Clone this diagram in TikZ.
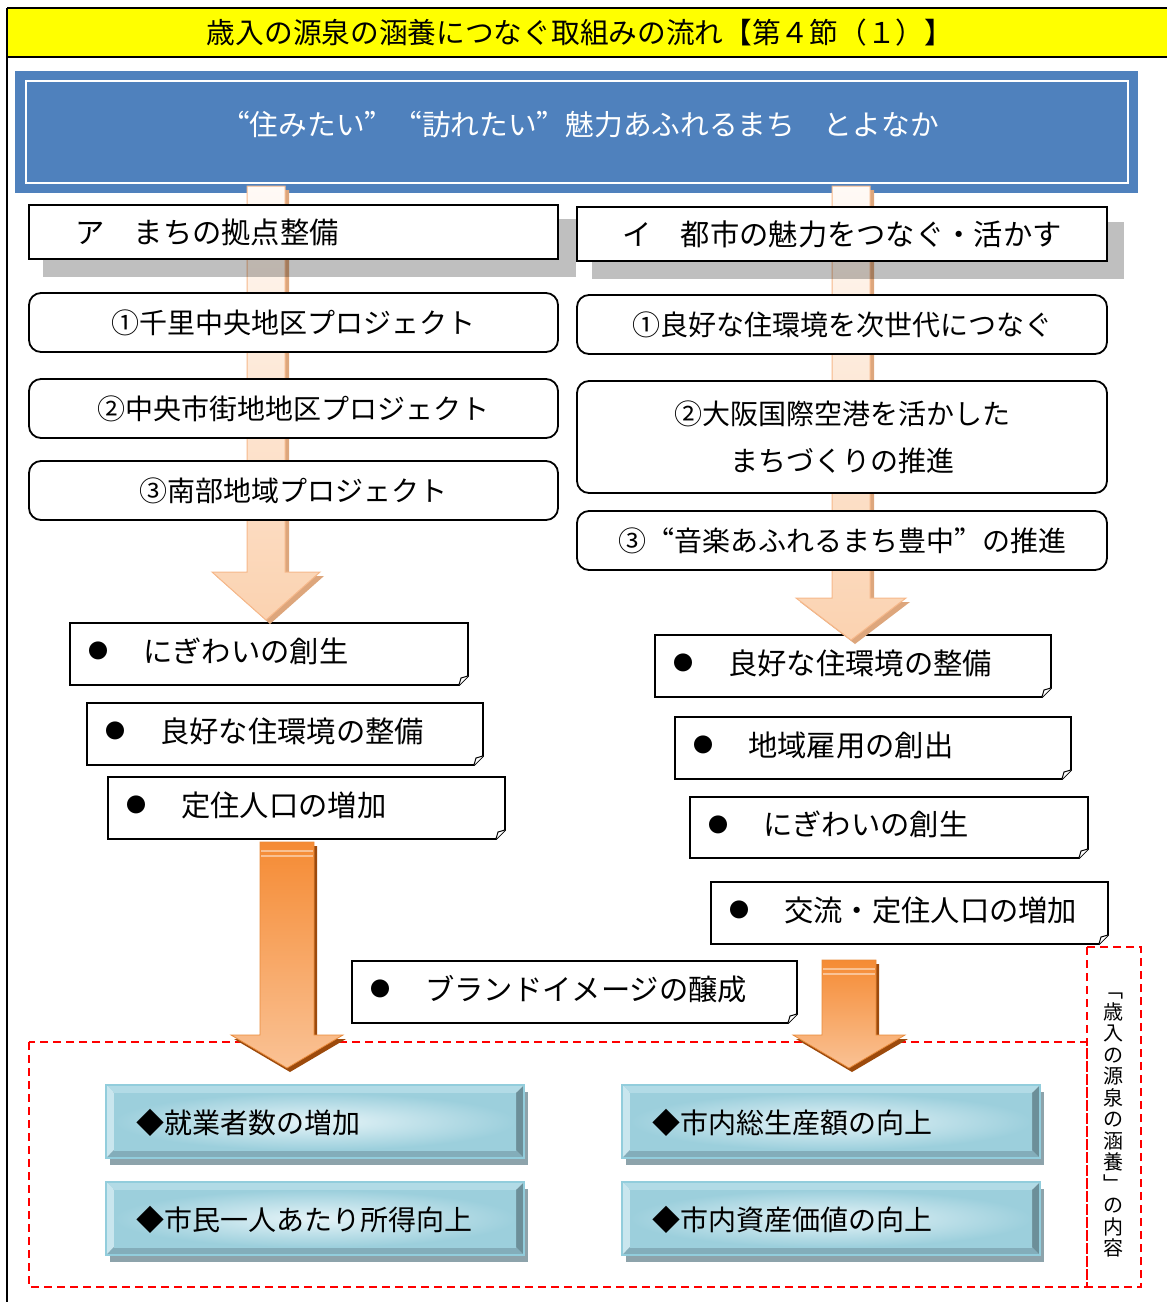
\documentclass[tikz,border=0pt]{standalone}
\usepackage{fontspec}
\setmainfont{Noto Sans CJK JP}
\newfontfamily\fwfont[CharacterWidth=Full]{Noto Sans CJK JP}
\definecolor{ttlyellow}{HTML}{FFFF00}
\definecolor{bandblue}{HTML}{4F81BD}
\definecolor{lpeach}{HTML}{FBD2B0}
\definecolor{lpeachtop}{HTML}{FFFAF6}
\definecolor{ledge}{HTML}{F6B88A}
\definecolor{lshadow}{HTML}{DDA67C}
\definecolor{orA}{HTML}{F58B34}
\definecolor{orB}{HTML}{FAC295}
\definecolor{orEdge}{HTML}{E98A3A}
\definecolor{orShadow}{HTML}{9C4A0C}
\definecolor{bbBorder}{HTML}{92CDDC}
\definecolor{bbTop}{HTML}{B2DBE6}
\definecolor{bbLeft}{HTML}{C9E6EE}
\definecolor{bbRight}{HTML}{6C8F99}
\definecolor{bbBottom}{HTML}{83ADBA}
\definecolor{bbFaceA}{HTML}{9CCFDC}
\definecolor{bbFaceB}{HTML}{E6F4F8}
\definecolor{bbShadow}{HTML}{8DA3AB}
\tikzset{
  txt/.style={font=\fontsize{28}{34}\selectfont, inner sep=0pt, text height=24.6pt, text depth=3.4pt},
  txtb/.style={font=\fontsize{29.3}{35}\selectfont, inner sep=0pt, text height=25.8pt, text depth=3.5pt},
  txtt/.style={font=\fontsize{28.7}{35}\selectfont, inner sep=0pt, text height=25.2pt, text depth=3.5pt},
  vtxt/.style={font=\fontsize{20}{24}\selectfont, inner sep=0pt, text height=17.6pt, text depth=2.4pt},
  bul/.style={font=\fontsize{20}{24}\selectfont, inner sep=0pt},
  hbox/.style={draw=black, line width=2pt, fill=white, inner sep=0pt},
  rbox/.style={draw=black, line width=1.8pt, fill=white, rounded corners=12pt, inner sep=0pt},
  fold/.style={draw=black, line width=1.8pt, fill=white},
  reddash/.style={draw=red, line width=1.5pt, dash pattern=on 8pt off 5pt},
  hshadow/.style={fill=black, opacity=0.25},
}
\newcommand{\foldbox}[6]{%
  \draw[fold] (#2,#3) -- (#4,#3) -- (#4,{#5-9}) -- ({#4-9},#5) -- (#2,#5) -- cycle;
  \draw[black, line width=1pt, fill=white] (#4,{#5-9}) -- ({#4-7},{#5-7}) -- ({#4-9},#5);
  \node[bul] (#1b) at ({#2+28},{(#3+#5)/2-3}) {●};
  \node[txtb, anchor=west] (#1) at ({#2+73},{(#3+#5)/2-3}) {#6};
}
\newcommand{\bevbox}[6]{%
  \fill[bbShadow] ({#2+4},{#3+7}) rectangle ({#4+4},{#5+7});
  \fill[bbTop] (#2,#3) -- (#4,#3) -- ({#4-8},{#3+8}) -- ({#2+8},{#3+8}) -- cycle;
  \fill[bbLeft] (#2,#3) -- ({#2+8},{#3+8}) -- ({#2+8},{#5-8}) -- (#2,#5) -- cycle;
  \fill[bbRight] (#4,#3) -- (#4,#5) -- ({#4-8},{#5-8}) -- ({#4-8},{#3+8}) -- cycle;
  \fill[bbBottom] (#2,#5) -- (#4,#5) -- ({#4-8},{#5-8}) -- ({#2+8},{#5-8}) -- cycle;
  \shade[inner color=bbFaceB, outer color=bbFaceA] ({#2+8},{#3+8}) rectangle ({#4-8},{#5-8});
  \draw[bbBorder, line width=1.5pt] (#2,#3) rectangle (#4,#5);
  \node[txt, anchor=west] (#1) at ({#2+30},{(#3+#5)/2+1}) {#6};
}
\begin{document}
\begin{tikzpicture}[x=1pt,y=-1pt]
\useasboundingbox (0,0) rectangle (1167,1302);
% title band
\fill[ttlyellow] (7,8) rectangle (1170,57);
\draw[line width=2.5pt] (7,8) -- (1170,8);
\draw[line width=2pt] (7,57) -- (1170,57);
\draw[line width=2pt] (7,8) -- (7,1302);
\node[txtt] (title) at (580,33) {歳入の源泉の涵養につなぐ取組みの流れ【第４節（１）】};
% blue band
\fill[bandblue] (15,71) rectangle (1138,193);
\draw[white, line width=2.5pt] (26,81) rectangle (1128,183);
\node[txtt, text=white] (band) at (580,125) {\fwfont “住みたい”“訪れたい”魅力あふれるまち　とよなか};
% outcome boxes (folded corner)
\foldbox{LA}{70}{623}{468}{685}{にぎわいの創生}
\foldbox{LB}{87}{703}{483}{765}{良好な住環境の整備}
\foldbox{LC}{108}{777}{505}{839}{定住人口の増加}
\foldbox{RA}{655}{635}{1051}{697}{良好な住環境の整備}
\foldbox{RB}{675}{717}{1071}{779}{地域雇用の創出}
\foldbox{RC}{690}{797}{1088}{858}{にぎわいの創生}
\foldbox{RD}{711}{882}{1108}{944}{交流・定住人口の増加}
\foldbox{BR}{352}{961}{797}{1023}{ブランドイメージの醸成}
% light arrows
\fill[lshadow] (251,190) -- (289,190) -- (289,576) -- (324,576) -- (270,624) -- (216,576) -- (251,576) -- cycle;
\shadedraw[top color=lpeachtop, bottom color=lpeach, draw=ledge, line width=1pt]
  (247,186) -- (285,186) -- (285,572) -- (320,572) -- (266,620) -- (212,572) -- (247,572) -- cycle;
\fill[lshadow] (836,190) -- (874,190) -- (874,602) -- (910,602) -- (855,644) -- (800,602) -- (836,602) -- cycle;
\shadedraw[top color=lpeachtop, bottom color=lpeach, draw=ledge, line width=1pt]
  (832,186) -- (870,186) -- (870,598) -- (906,598) -- (851,640) -- (796,598) -- (832,598) -- cycle;
% header shadows
\fill[hshadow] (43,219) rectangle (576,277);
\fill[hshadow] (592,222) rectangle (1124,279);
% header boxes
\node[hbox, minimum width=529pt, minimum height=54pt] (HA) at (293.5,232) {};
\node[txtb, anchor=west] (HAt) at (75,232) {ア　まちの拠点整備};
\node[hbox, minimum width=530pt, minimum height=54pt] (HI) at (842,234) {};
\node[txtb, anchor=west] (HIt) at (622,234) {イ　都市の魅力をつなぐ・活かす};
% project boxes left
\node[rbox, txt, minimum width=529pt, minimum height=59pt] (L1) at (293.5,322.5) {①千里中央地区プロジェクト};
\node[rbox, txt, minimum width=529pt, minimum height=59pt] (L2) at (293.5,408.5) {②中央市街地地区プロジェクト};
\node[rbox, txt, minimum width=529pt, minimum height=59pt] (L3) at (293.5,490.5) {③南部地域プロジェクト};
% project boxes right
\node[rbox, txt, minimum width=530pt, minimum height=59pt] (R1) at (842,324.5) {①良好な住環境を次世代につなぐ};
\node[rbox, minimum width=530pt, minimum height=112pt] (R2) at (842,437) {};
\node[txt] (R2a) at (842,414) {②大阪国際空港を活かした};
\node[txt] (R2b) at (842,461) {まちづくりの推進};
\node[rbox, txt, minimum width=530pt, minimum height=59pt] (R3) at (842,540.5) {\fwfont ③“音楽あふれるまち豊中”の推進};
% red dashed frames
\draw[reddash] (29,1042) rectangle (1087,1287);
\draw[reddash] (1087,947) rectangle (1141,1287);
% big orange arrows
\fill[orShadow] (263,846) -- (317,846) -- (317,1039) -- (346,1039) -- (290,1072) -- (234,1039) -- (263,1039) -- cycle;
\shadedraw[top color=orA, bottom color=orB, draw=orEdge, line width=0.8pt]
  (260,842) -- (314,842) -- (314,1035) -- (343,1035) -- (287,1068) -- (231,1035) -- (260,1035) -- cycle;
\draw[white, opacity=0.45, line width=1.2pt] (261,851) -- (313,851) (261,856) -- (313,856);
\fill[orShadow] (825,964) -- (879,964) -- (879,1039) -- (908,1039) -- (852,1072) -- (796,1039) -- (825,1039) -- cycle;
\shadedraw[top color=orA, bottom color=orB, draw=orEdge, line width=0.8pt]
  (822,960) -- (876,960) -- (876,1035) -- (905,1035) -- (849,1068) -- (793,1035) -- (822,1035) -- cycle;
\draw[white, opacity=0.45, line width=1.2pt] (823,969) -- (875,969) (823,974) -- (875,974);
% result boxes
\bevbox{E1}{106}{1085}{524}{1158}{◆就業者数の増加}
\bevbox{E2}{106}{1182}{524}{1255}{◆市民一人あたり所得向上}
\bevbox{E3}{622}{1085}{1040}{1158}{◆市内総生産額の向上}
\bevbox{E4}{622}{1182}{1040}{1255}{◆市内資産価値の向上}
% vertical label
\foreach \ch [count=\i from 0] in {﹁,歳,入,の,源,泉,の,涵,養,﹂,の,内,容}
  \node[vtxt] (v\i) at (1113,{990+21.5*\i}) {\ch};
\end{tikzpicture}
\end{document}
